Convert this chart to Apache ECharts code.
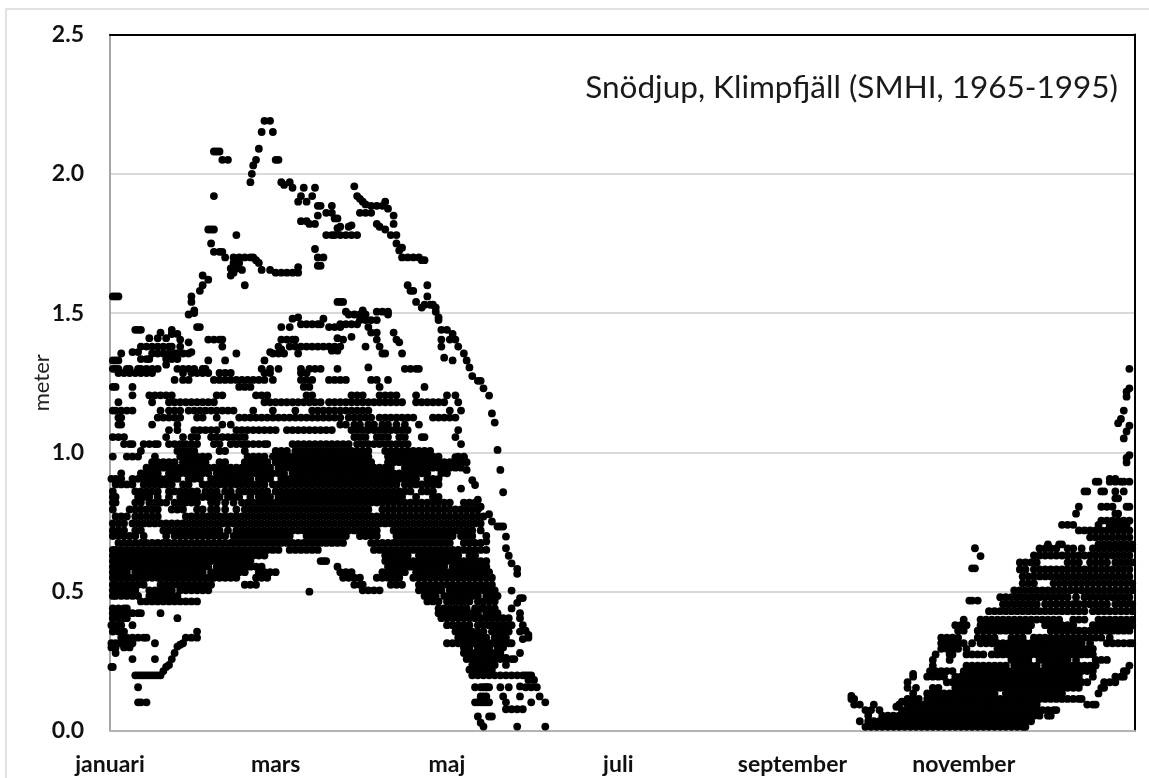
<!DOCTYPE html>
<html>
<head>
<meta charset="utf-8">
<title>Snödjup, Klimpfjäll</title>
<script src="https://cdn.jsdelivr.net/npm/echarts@6/dist/echarts.min.js"></script>
<style>
  html, body { margin: 0; padding: 0; background: #fff; }
  #frame { position: absolute; left: 5px; top: 8px; width: 1144px; height: 770px; border-left: 2px solid #e2e2e2; border-top: 2px solid #e2e2e2; box-sizing: border-box; }
  #main { position: absolute; left: 0; top: 0; width: 1149px; height: 778px; }
</style>
</head>
<body>
<div id="frame"></div>
<div id="main"></div>
<script>
// month ticks (day of year) and names
const monthDays = [0, 59, 120, 181, 243, 304];
const monthNames = ["januari", "mars", "maj", "juli", "september", "november"];

// single readings above the dense winter band: [day, meter]
const peakPoints = [
  [55,2.19],[57,2.19],[54,2.15],[58,2.15],[53,2.09],[52,2.05],[51,2.03],[50.5,2],[50,1.97],
  [37,2.08],[38,2.08],[39,2.08],[40,2.05],[42,2.05],[59,2.05],[60,2.05],[61,1.97],[62,1.96],[64,1.97],[65,1.95],
  [37,1.92],[69,1.95],[73,1.95],[68,1.92],[72,1.92],[67,1.9],[70,1.9],[74,1.885],[75,1.885],[79,1.885],
  [74,1.85],[77,1.86],[79,1.86],[80,1.84],[81,1.84],[68,1.83],[70,1.83],[71,1.82],[73,1.82],
  [77,1.78],[79,1.78],[80,1.78],[82,1.78],[84,1.78],[86,1.78],[88,1.78],[82,1.81],[85,1.81],[86,1.815],[81,1.805],
  [73,1.73],[74,1.7],[76,1.7],[74,1.67],[75,1.67],[35,1.8],[36,1.8],[37,1.8],[36,1.75],[45,1.78],
  [37,1.72],[39,1.72],[40,1.72],[41,1.7],[44,1.7],[46,1.7],[48,1.7],[50,1.7],[51,1.7],[52,1.69],[53,1.68],
  [44,1.68],[46,1.68],[45,1.66],[43,1.66],[43,1.635],[44,1.645],[47,1.655],[48,1.6],[54,1.655],[57,1.655],
  [59,1.645],[61,1.645],[63,1.645],[65,1.645],[67,1.645],[67,1.665],[1,1.56],[2,1.56],[3,1.56],
  [33,1.635],[35,1.62],[33,1.6],[32,1.58],[29,1.56],[29,1.54],[30,1.51],[30,1.5],[28,1.495],[31,1.45],[32,1.45],
  [87,1.955],[88,1.92],[89,1.91],[90,1.9],[91,1.89],[93,1.885],[95,1.885],[97,1.885],[98,1.9],[99,1.875],
  [101,1.85],[101,1.82],[89,1.86],[91,1.86],[93,1.86],[95,1.82],[96,1.81],[98,1.8],[100,1.78],[102,1.78],
  [102,1.75],[104,1.735],[103,1.725],[104,1.7],[106,1.7],[108,1.7],[110,1.7],[111,1.69],[112,1.69],
  [106,1.6],[107,1.58],[108,1.58],[113,1.6],[113,1.56],[109,1.54],[111,1.52],[112,1.53],[114,1.53],[115,1.53],
  [116,1.52],[116,1.505],[117,1.485],[117,1.475],[118,1.44],[120,1.44],[122,1.425],[123,1.405],[118,1.405],[121,1.405],
  [118,1.38],[124,1.38],[126,1.355],[119,1.34],[122,1.33],[127,1.33],[128,1.305]
];

// readings along the upper edge of the winter band: [day, meter]
const shoulderPoints = [
  [9,1.44],[10,1.44],[11,1.44],[18,1.43],[22,1.44],[22,1.425],[24,1.425],[14,1.41],[17,1.41],[20,1.41],[25,1.405],[28,1.395],
  [35,1.405],[37,1.405],[39,1.405],[40,1.405],[11,1.38],[13,1.38],[15,1.38],[17,1.38],[19,1.38],[21,1.38],[22,1.38],[25,1.38],[40,1.38],
  [4,1.355],[8,1.36],[10,1.36],[15,1.355],[17,1.355],[19,1.355],[21,1.355],[23,1.355],[24,1.355],[26,1.355],[29,1.36],[28,1.355],
  [11,1.335],[13,1.335],[14,1.335],[20,1.335],[22,1.335],[24,1.335],[1,1.33],[2,1.33],[3,1.33],[35,1.33],[41,1.33],[45,1.355],[55,1.33],
  [1,1.3],[2,1.3],[3,1.3],[6,1.3],[7,1.3],[10,1.3],[11,1.3],[13,1.3],[15,1.3],[17,1.3],[20,1.315],[24,1.3],[26,1.3],[28,1.3],[30,1.3],[33,1.3],[34,1.3],
  [54,1.3],[57,1.3],[60,1.3],[68,1.3],[71,1.3],[73,1.3],[75,1.3],[81,1.3],
  [57,1.36],[60,1.38],[61,1.37],[58,1.355],[60,1.355],[62,1.355],[64,1.38],[66,1.38],[68,1.38],[70,1.38],[72,1.38],[74,1.38],[76,1.38],[78,1.38],[80,1.38],
  [79,1.365],[81,1.365],[67,1.355],[61,1.405],[63,1.405],[65,1.405],[66,1.405],[61,1.45],[64,1.45],[65,1.48],[67,1.485],
  [68,1.46],[70,1.46],[72,1.46],[74,1.46],[75,1.46],[76,1.48],[78,1.45],[80,1.45],[82,1.45],[81,1.54],[81,1.41],
  [82,1.54],[83,1.54],[84,1.505],[85,1.495],[87,1.495],[89,1.495],[91,1.495],[90,1.51],[95,1.505],[97,1.505],[99,1.505],[99,1.495],
  [82,1.46],[84,1.46],[86,1.46],[88,1.46],[89,1.475],[91,1.475],[93,1.475],[95,1.475],[92,1.45],[93,1.43],[95,1.43],[95,1.405],[96,1.38],[97,1.355],[98,1.355],
  [101,1.43],[102,1.405],[103,1.395],[104,1.355],[91,1.38],[86,1.415],[83,1.405],[82,1.38],[92,1.305],[105,1.3],[107,1.3],[109,1.3],[110,1.3]
];

// readings on the falling spring edge: [day, meter]
const tailPoints = [
  [129,1.274],[131,1.257],[132,1.257],[133,1.23],[135,1.204],[136,1.14],[137,1.107],[138,1.009],[139,0.937],[140,0.857],
  [131,0.83],[129,0.9],[130,0.883],[127,0.937],[123,0.983],[126,0.983],[125,0.87],[132,0.805],[135,0.778],[136,0.752],
  [138,0.734],[139,0.734],[140,0.734],[141,0.698],[134,0.68],[141,0.656],[142,0.629],[143,0.602],[145,0.582],[145,0.564],
  [143,0.504],[145,0.46],[146,0.477],[147,0.477],[143,0.44],[146,0.423],[146,0.405],[147,0.38],[148,0.36],[149,0.345],
  [147,0.33],[149,0.335],[146,0.28],[141,0.262],[147,0.2],[148,0.2],[149,0.2],[150,0.2],[149,0.183],[152,0.157],
  [151,0.183],[150,0.157],[148,0.157],[146,0.16],[142,0.157],[139,0.157],[130,0.157],[132,0.157],[134,0.157],
  [132,0.124],[140,0.124],[146,0.124],[153,0.124],[130,0.103],[132,0.103],[134,0.103],[141,0.103],[150,0.103],[155,0.103],
  [141,0.078],[143,0.078],[145,0.078],[147,0.078],[131,0.052],[135,0.052],[136,0.052],[132,0.03],[133,0.016],[145,0.016],[155,0.016]
];

// readings on the low left side in january-february: [day, meter]
const lowPoints = [
  [9,0.2],[10,0.2],[11,0.2],[12,0.2],[13,0.2],[14,0.2],[15,0.2],[16,0.2],[17,0.2],[18,0.2],[19,0.215],[20,0.23],[21,0.237],[22,0.258],[23,0.28],
  [24,0.303],[25,0.31],[26,0.315],[27,0.335],[29,0.335],[31,0.335],[31,0.357],[10,0.157],[10,0.103],[11,0.103],[13,0.103],[8,0.258],[16,0.258],
  [1,0.23],[0.5,0.23],[2,0.28],[16,0.315],[24,0.405],[18,0.423],[6,0.44],[71,0.5]
];

// long rows of days at one snow depth, winter and spring: [meter, days]
const winterRows = [
  [1.285,[3,5,7,9,11,13,15,26,29,31,33,35,39,41,43,55,57,68,70]],
  [1.26,[23,26,28,37,39,41,43,45,47,49,51,53,55,58,68,70,72,78,80,82,84,93,95,99]],
  [1.235,[1,2,8,46,48,50,69,71,96,112]],
  [1.205,[8,14,16,18,20,22,38,40,52,54,56,70,72,86,88,90,96,98,100,102,109,120,123]],
  [1.18,[3,15,21,23,25,27,29,31,33,35,37,55,57,59,61,63,65,67,69,71,73,75,78,80,82,84,86,88,90,92,94,96,98,100,102,104,109,111,113,115,117,119,124]],
  [1.15,[1,2,4,6,8,18,21,23,25,28,30,32,34,36,38,40,42,44,51,58,66,72,74,76,78,80,82,84,86,88,90,92,121,125]],
  [1.125,[3,4,17,19,21,23,25,31,33,38,46,48,50,52,54,56,58,60,62,64,66,68,70,72,74,76,78,80,82,85,87,89,91,93,96,98,100,102,104,106,108,115,117,119,121,123]],
  [1.1,[3,4,15,24,40,43,82,84,87,89,92,94,97,99,102,105,110]],
  [1.08,[21,24,30,32,34,36,38,45,47,49,51,53,55,57,59,63,65,67,69,71,73,75,77,79,86,88,90,92,94,96,98,100,102,104,106,124]],
  [1.055,[1,3,5,20,26,29,31,36,38,40,42,44,46,48,87,89,91,95,97,99,103,105,111,112,123]],
  [1.03,[5,7,8,12,14,16,17,21,23,25,27,29,31,37,39,43,45,47,49,51,53,55,56,65,67,69,71,73,75,77,79,81,83,85,88,90,92,94,96,98,100,102,104,106,125]],
  [1.005,[11,24,26,28,30,39,41,48,59,61,63,66,68,70,72,74,76,78,80,82,84,86,88,90,92,98,100,102,104,106,108,110,112,114]],
  [0.985,[1,6,8,10,16,25,27,29,31,33,35,49,51,53,55,58,60,62,64,66,68,70,72,74,76,78,80,82,84,86,88,90,92,99,101,103,105,107,109,111,113,115,117,124,126]],
  [0.965,[15,17,19,21,23,26,28,30,32,34,39,41,48,50,52,54,56,59,61,63,65,67,69,71,73,75,77,79,81,83,85,87,89,91,93,99,101,103,105,107,109,111,113,115,117,119,121,123,125,127]],
  [0.945,[13,15,17,19,21,23,25,27,29,31,33,35,37,39,41,43,45,47,49,51,53,55,57,60,62,64,66,68,70,72,74,76,78,80,82,84,86,88,90,92,94,96,98,100,105,107,109,111,113,115,117,119,121,123,125]],
  [0.925,[4,11,13,15,17,21,23,25,27,29,31,33,35,38,40,42,44,46,48,50,52,54,56,58,60,62,65,67,69,71,73,75,77,79,81,83,85,87,89,91,93,95,97,99,101,103,105,107,109,111,113,118,120]],
  [0.905,[0.5,2,4,8,10,12,14,16,18,20,22,24,28,30,32,36,38,40,42,44,46,48,50,53,55,57,61,63,65,67,69,71,73,75,77,79,81,83,85,87,89,91,93,95,97,99,101,103,105,107,109,113,115,117]],
  [0.885,[2,4,6,8,12,14,16,18,20,22,26,28,33,35,37,39,41,43,45,47,49,51,53,55,58,60,62,64,66,68,70,72,74,76,78,80,82,84,86,88,90,92,94,96,98,100,102,105,107,109,111,113,115,117]],
  [0.86,[1,9,11,13,15,17,21,23,25,27,29,31,34,36,38,41,43,46,48,50,52,54,56,59,61,63,65,67,69,71,73,75,77,79,81,83,85,87,89,91,93,95,97,99,101,103,105,107,111,113,115]],
  [0.84,[1,2,10,12,14,17,21,25,27,29,31,33,35,37,39,42,44,46,50,53,55,57,60,62,64,66,68,70,72,74,76,78,80,82,84,86,88,90,92,94,96,98,100,102,104,109,115,117]],
  [0.82,[1,2,9,11,14,16,18,20,23,25,27,29,31,36,38,41,44,47,49,51,53,55,57,59,61,63,65,67,69,71,73,75,77,79,81,83,85,87,89,91,93,95,97,99,101,103,105,107,109,111,113,115,117,119,121,126,128,130]],
  [0.795,[1,7,9,11,13,15,17,22,24,26,31,33,36,38,41,45,48,50,52,54,56,58,60,62,64,66,68,70,72,74,76,78,80,82,84,86,88,90,92,97,99,101,103,105,107,109,111,113,115,117,119,121,123,125,127,129,131]],
  [0.77,[2,4,6,9,11,13,15,17,27,29,31,33,35,37,39,41,43,45,47,49,51,53,55,57,59,61,63,65,67,69,71,73,75,77,79,81,83,85,87,89,91,93,95,97,99,101,103,105,107,109,111,113,115,117,119,121,123,125,127,129,131,133]],
  [0.745,[1,3,5,8,10,12,14,16,18,20,22,24,26,28,30,32,34,36,38,40,42,44,46,48,50,52,54,56,58,60,62,64,66,68,70,72,74,76,78,80,82,84,86,88,90,92,94,96,98,100,102,104,106,108,110,112,114,116,118,120,122,124,126,128,130,132]],
  [0.72,[1,3,5,9,11,19,21,23,25,27,29,31,33,35,37,39,42,45,47,49,51,53,55,57,59,61,63,65,67,69,71,73,75,77,79,81,83,85,87,89,91,93,95,101,103,105,107,109,111,113,115,117,119,121,123,125,127,129,132]],
  [0.7,[1,3,5,7,9,12,20,23,25,27,29,31,33,35,37,39,41,44,46,48,50,52,54,56,58,60,62,64,70,72,74,76,78,80,82,84,89,91,93,95,102,104,106,108,110,112,114,116,118,120,122,125,127,129,134]],
  [0.675,[3,5,7,9,11,13,15,17,19,21,23,25,27,29,31,33,35,37,39,41,43,45,47,49,51,53,55,57,59,61,63,65,67,69,71,73,75,77,79,81,83,93,95,97,99,101,103,105,107,109,111,113,115,117,119,121,126,128,130,132]],
  [0.65,[1,2,4,6,8,10,12,14,16,18,20,22,24,26,28,30,32,34,36,38,40,42,44,46,48,50,52,54,56,58,60,64,66,68,70,72,74,94,96,98,100,102,104,106,108,110,112,114,116,118,120,122,124,126,128,130,132,134]],
  [0.63,[1,3,5,7,9,11,13,15,17,19,21,23,25,27,29,31,33,35,37,39,41,43,45,47,49,51,53,55,98,100,102,104,106,110,112,114,116,118,120,122,124,128,130]],
  [0.61,[1,2,4,6,8,10,12,14,16,18,20,22,24,26,28,30,32,34,36,38,40,42,44,46,48,50,75,76,77,98,100,102,104,106,108,110,112,114,116,118,120,122,124,126,128,130,132,134]],
  [0.59,[1,3,5,7,9,11,13,15,17,19,21,23,25,27,29,31,33,35,38,40,42,44,46,48,50,52,54,81,99,101,103,105,107,109,111,113,115,117,119,122,124,126,128,130,132,134]],
  [0.57,[1,2,4,6,9,11,13,15,17,19,21,23,25,27,29,31,33,36,38,40,42,44,46,48,53,55,57,59,82,84,86,97,99,101,103,105,109,111,113,115,117,119,121,123,125,127,129,131,133,135]],
  [0.55,[1,3,5,7,9,11,13,15,17,19,21,23,25,27,29,31,33,35,37,39,41,43,45,52,54,56,83,85,87,89,95,97,99,101,103,108,110,112,114,116,118,120,122,124,126,128,130,132,134,136]],
  [0.525,[1,2,4,6,8,10,12,18,20,22,24,26,28,30,32,34,36,48,50,52,87,89,90,100,102,104,110,112,114,116,118,120,122,124,126,128,130,132,134,136]],
  [0.505,[1,3,5,7,9,14,16,18,20,22,25,27,29,31,33,35,90,92,94,96,110,112,114,116,118,121,123,125,127,129,131,133,135,137]],
  [0.485,[1,2,4,6,8,10,14,16,18,20,22,24,112,114,116,119,121,123,125,127,129,131,134,136,138]],
  [0.465,[11,13,15,17,19,21,23,25,27,29,31,113,115,117,120,122,124,126,128,131,133,135,137]],
  [0.44,[1,3,5,117,119,121,123,125,127,130,132,133,135,137]],
  [0.423,[1,2,4,6,8,10,11,117,119,121,123,125,127,129,131,134,136,138]],
  [0.405,[1,3,5,6,118,120,122,124,126,128,130,132,134,136,138,140,142]],
  [0.38,[0.5,2,4,8,120,122,124,126,128,131,133,135,137,139,141,143]],
  [0.357,[1,3,4,5,123,125,127,129,131,133,136,138,140,142,146]],
  [0.335,[4,6,8,10,12,13,124,126,128,130,132,134,137,139,141]],
  [0.315,[0.5,2,4,6,8,120,122,124,126,128,130,132,134,136,138,140,142,143]],
  [0.3,[0.5,2,5,7,126,128,131,133,135,138,140]],
  [0.28,[126,128,130,132,134,136,138,139]],
  [0.258,[127,129,131,133,135,137,139,141,143,144]],
  [0.237,[129,131,133,135,137,141]],
  [0.22,[128,130,132,134,136]],
  [0.2,[129,131,133,135,137,139,141,143,145]],
  [0.157,[133,134,135]],
  [0.124,[133,134]],
  [0.103,[131,133,135]]
];

// same kind of rows for the autumn snow: [meter, days]
const autumnRows = [
  [0.015,[269,271,273,275,277,279,281,283,285,287,289,291,293,295,297,299,301,303,305,307,309,311,313,315,317,319,321,323,325,326]],
  [0.035,[267,270,272,274,276,278,280,282,284,286,288,290,292,294,296,298,300,302,304,306,308,310,312,314,316,318,320,322,324,326,328]],
  [0.055,[270,275,277,279,281,283,285,287,289,291,293,295,297,299,301,303,305,307,309,311,313,315,317,319,321,323,325,327,329,331,334,335]],
  [0.075,[269,271,274,282,284,286,288,290,292,294,296,298,300,302,304,306,308,310,312,314,316,318,320,322,324,326,328,330,332,334,336,337]],
  [0.095,[265,267,272,281,284,286,288,290,292,294,296,298,300,302,304,306,308,310,312,314,316,318,320,322,324,326,328,330,348,350,351]],
  [0.115,[264,265,284,286,288,291,293,295,297,299,301,303,305,307,309,311,313,315,317,319,321,323,325,327,329,331,333,335,337,339,341,343,345,346]],
  [0.135,[286,291,293,295,297,299,301,303,305,307,309,311,313,315,319,321,323,325,327,329,331,333,335,337,339,352]],
  [0.155,[284,287,293,295,301,303,305,307,309,311,313,315,317,319,321,323,325,327,329,331,333,335,337,339,341,343,345,353,354]],
  [0.175,[284,298,300,302,304,306,308,310,312,314,316,318,320,322,324,326,328,330,332,334,336,338,340,342,344,346,348,354,356,358]],
  [0.195,[286,291,293,295,297,301,303,305,307,309,311,313,315,317,319,321,323,325,327,329,331,333,335,337,339,341,343,345,350,358,360,361]],
  [0.215,[292,294,296,298,300,304,306,308,310,312,314,316,318,320,322,324,326,328,330,332,334,336,338,340,342,344,346,348,350,361,362]],
  [0.235,[293,305,307,309,311,313,315,317,319,322,324,326,328,330,333,335,337,339,341,343,345,347,349,351,363]],
  [0.255,[293,299,321,323,325,327,331,333,335,337,339,341,344,351,353,355]],
  [0.275,[294,299,300,305,307,309,311,314,316,318,320,322,324,326,328,330,332,334,336,338,340,342,344,346,348,350]],
  [0.295,[296,298,300,302,305,316,318,320,322,324,326,328,330,332,334,336,338,340,342,344,346,348,350]],
  [0.315,[296,298,300,302,304,307,310,312,314,316,318,320,322,324,326,328,330,332,334,336,338,340,342,344,346,349,355,357,359,361,363,364]],
  [0.335,[296,298,300,302,309,311,313,315,321,323,325,329,331,333,335,337,339,341,343,345,347,349,351,353,356]],
  [0.36,[302,304,309,311,313,315,317,319,321,323,325,327,335,337,339,341,343,345,347,349,351,353,355,357,359,361,363]],
  [0.38,[301,303,305,310,312,314,316,318,320,322,324,326,328,333,335,337,339,341,343,350,352,354,356,358,360,362,364]],
  [0.4,[304,310,312,314,316,318,320,322,324,326,328,330,332,334,336,338,343,345,347,352,354,356,358,360,362,364]],
  [0.43,[313,315,317,319,321,323,325,327,329,331,333,335,337,339,341,343,345,347,350,352,354,356,358,360,362,364]],
  [0.455,[318,320,322,324,326,328,330,333,335,337,339,341,343,345,347,349,351,353,355,358,360,362,364]],
  [0.468,[306,307,309]],
  [0.48,[317,319,321,323,325,327,329,331,333,335,337,339,341,344,347,349,351,353,355,357,359,361,363]],
  [0.505,[322,324,326,328,330,332,334,336,338,340,342,344,346,348,350,352,354,356,358,360,362,364]],
  [0.53,[325,327,329,336,338,340,342,344,346,348,350,352,354,356,358,360,362,364]],
  [0.555,[325,327,329,331,333,335,337,339,341,343,345,347,349,351,353,355,357,359,361,363]],
  [0.58,[324,326,329,331,333,335,337,339,341,343,345,347,349,351,353,355,357,359,361,363]],
  [0.605,[324,326,328,330,341,343,345,349,351,353,355,358,360,362,364]],
  [0.63,[329,331,333,335,337,339,341,343,345,347,349,351,353,355,357,359,361,363]],
  [0.655,[331,333,335,337,341,343,346,350,352,354,356,358,360,362,364]],
  [0.67,[334,338,339,352,354,356,358,360,362,364]],
  [0.695,[349,351,353,355,357,359,361,363]],
  [0.72,[345,347,349,351,353,355,357,359,361,363]],
  [0.74,[339,341,343,352,356,358,360,362]],
  [0.755,[353,355,357,359,361,363]],
  [0.78,[344,358,359]],
  [0.805,[345,353,355,357,362,363]],
  [0.835,[358,359]],
  [0.86,[347,348,353,354,358,361]],
  [0.895,[351,352,356,358,360,361,363]],
  [0.905,[356,358]]
];

// single autumn readings: [day, meter]
const autumnPoints = [
  [264,0.126],[308,0.656],[310,0.628],[307,0.584],[308,0.584],[286,0.205],[282,0.105],[280,0.087],
  [363,1.3],[363,1.23],[362,1.218],[362,1.2],[361,1.15],[360,1.12],[359,1.105],[363,1.096],[362,1.075],[361,1.05],
  [362,0.98],[363,0.99],[362,0.964]
];

function rowsToPoints(rows) {
  const pts = [];
  rows.forEach(function (r) {
    r[1].forEach(function (day) {
      pts.push([day, r[0]]);
    });
  });
  return pts;
}

const winterData = peakPoints.concat(shoulderPoints, tailPoints, lowPoints, rowsToPoints(winterRows));
const autumnData = autumnPoints.concat(rowsToPoints(autumnRows));

const fontName = "Lato";
const myChart = echarts.init(document.getElementById("main"), null, { renderer: "canvas" });

function scatter(name, data) {
  return {
    name: name,
    type: "scatter",
    symbol: "circle",
    symbolSize: 7.8,
    silent: true,
    large: false,
    itemStyle: { color: "#000", opacity: 1 },
    data: data
  };
}

myChart.setOption({
  animation: false,
  backgroundColor: "transparent",
  title: {
    text: "Snödjup, Klimpfjäll (SMHI, 1965-1995)",
    right: 26,
    top: 67,
    textStyle: { fontFamily: fontName, fontSize: 31.5, fontWeight: "normal", color: "#1a1a1a" }
  },
  grid: { left: 110, right: 14, top: 34.5, bottom: 47 },
  xAxis: [
    {
      type: "value",
      min: 0,
      max: 365,
      position: "bottom",
      axisLine: { show: true, onZero: false, lineStyle: { color: "#b3b3b3", width: 2 } },
      axisTick: { show: false },
      splitLine: { show: false },
      axisLabel: {
        customValues: monthDays,
        margin: 22,
        fontFamily: fontName,
        fontSize: 23,
        fontWeight: "bold",
        color: "#111",
        formatter: function (v) {
          return monthNames[monthDays.indexOf(v)];
        }
      }
    },
    {
      type: "value",
      min: 0,
      max: 365,
      position: "top",
      axisLine: { show: true, onZero: false, lineStyle: { color: "#000", width: 2 } },
      axisTick: { show: false },
      axisLabel: { show: false },
      splitLine: { show: false }
    }
  ],
  yAxis: [
    {
      type: "value",
      min: 0,
      max: 2.5,
      interval: 0.5,
      position: "left",
      name: "meter",
      nameLocation: "middle",
      nameRotate: 90,
      nameGap: 57,
      nameMoveOverlap: false,
      nameTextStyle: { fontFamily: fontName, fontSize: 22, color: "#222" },
      axisLine: { show: true, onZero: false, lineStyle: { color: "#a6a6a6", width: 2 } },
      axisTick: { show: false },
      splitLine: { show: true, lineStyle: { color: "#d9d9d9", width: 2 } },
      axisLabel: {
        margin: 26,
        fontFamily: fontName,
        fontSize: 23,
        fontWeight: "bold",
        color: "#111",
        formatter: function (v) {
          return v.toFixed(1);
        }
      }
    },
    {
      type: "value",
      min: 0,
      max: 2.5,
      interval: 0.5,
      position: "right",
      axisLine: { show: true, onZero: false, lineStyle: { color: "#000", width: 2 } },
      axisTick: { show: false },
      axisLabel: { show: false },
      splitLine: { show: false }
    }
  ],
  series: [scatter("vinter", winterData), scatter("höst", autumnData)]
});
</script>
</body>
</html>
